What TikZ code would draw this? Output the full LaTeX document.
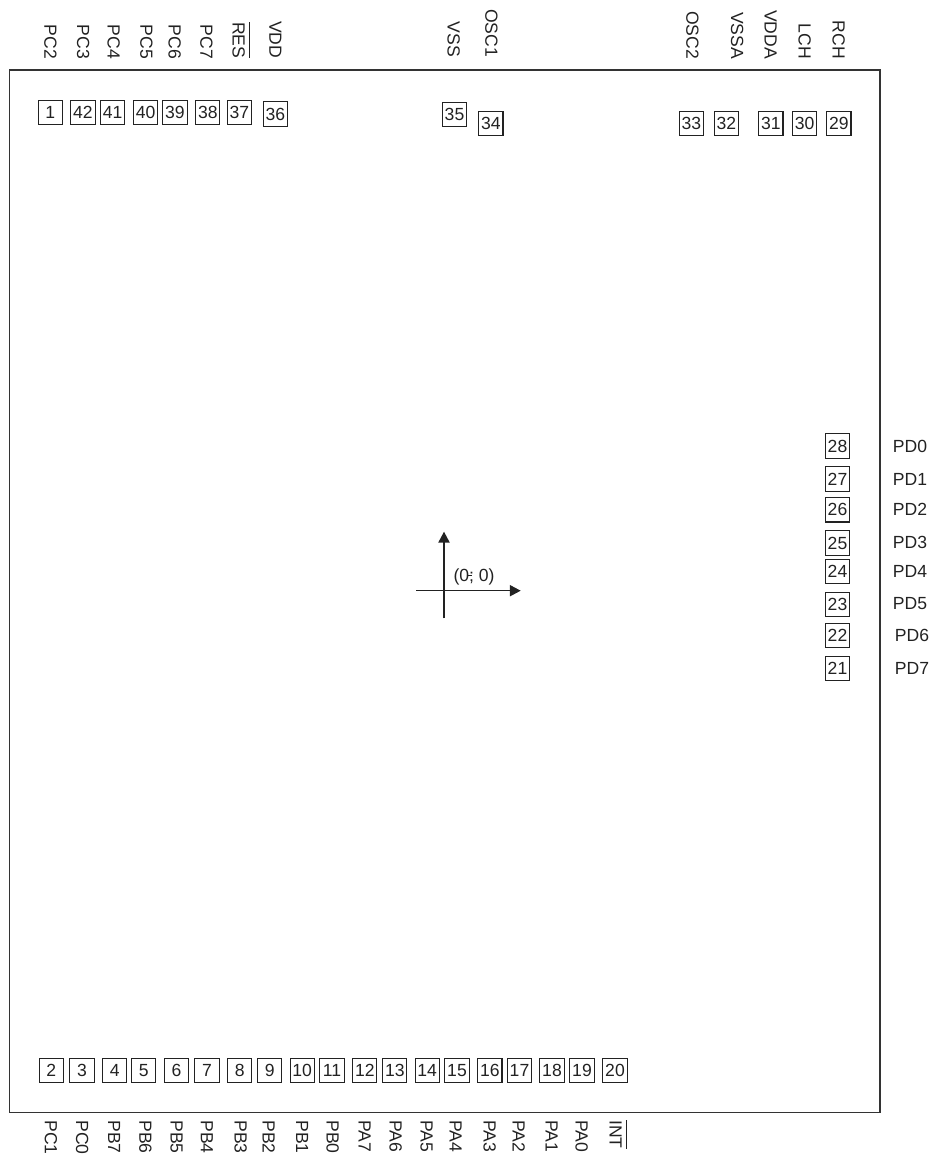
\documentclass[tikz,border=0pt]{standalone}
\usepackage{fontspec}
\setmainfont{Liberation Sans}
\usepackage{calc}
\usepackage{xcolor}
\definecolor{rimgray}{HTML}{333333}
\definecolor{inkgray}{HTML}{222222}
\usepackage{tikz}
\usetikzlibrary{arrows.meta, positioning}

\newcommand{\barred}[1]{\smash{\rlap{\rule[9.5pt]{\widthof{#1}}{0.5pt}}#1}}

\tikzset{
  chipfont/.style={font=\fontsize{10}{12}\selectfont, text=inkgray},
  padbox/.style={chipfont, draw=inkgray, line width=0.65pt, minimum size=0.485cm, inner sep=0pt},
  pinname/.style={chipfont, inner sep=0pt, text height=7.2pt, text depth=0pt},
  pintop/.style={pinname, rotate=-90, anchor=east},
  pinbottom/.style={pinname, rotate=-90, anchor=west},
  axisline/.style={draw=inkgray, line width=0.7pt, -{Triangle[length=6.2pt, width=6.4pt]}},
}

\begin{document}
\begin{tikzpicture}[x=0.02cm, y=-0.02cm]
  \useasboundingbox (0, 0) rectangle (932, 1156);

  % Die outline
  \draw[rimgray, line width=0.8pt] (9.5, 70) rectangle (880, 1112.7);

  % Pads along the top edge
  \foreach \num/\px/\py in {1/50.2/112.6, 42/83/112.6, 41/112.7/112.6, 40/145.7/112.6,
      39/175/112.6, 38/207.8/112.6, 37/239.3/112.6, 36/275.3/114, 35/454.5/114.8,
      34/490.8/123.8, 33/691.3/123.8, 32/726.3/123.8, 31/770.8/123.8, 30/804.7/123.8,
      29/838.8/123.8}
    \node[padbox] (pad\num) at (\px, \py) {\num};

  % Pads along the bottom edge
  \foreach \num/\px in {2/51.3, 3/82, 4/114.7, 5/143.8, 6/176.5, 7/207, 8/239.7, 9/269.8,
      10/302.2, 11/332, 12/364.8, 13/394.8, 14/427.2, 15/457, 16/489.8, 17/519.5,
      18/552, 19/582, 20/615}
    \node[padbox] (pad\num) at (\px, 1070.3) {\num};

  % Pads and names on the right side
  \foreach \num/\py in {28/446, 27/479, 26/509.8, 25/543, 24/571.3, 23/604.5, 22/635.3, 21/668.2}
    \node[padbox] (pad\num) at (837.5, \py) {\num};
  \foreach \name/\px/\py in {PD0/910/446, PD1/910/479, PD2/910/509.3, PD3/910/542.3,
      PD4/910/571.7, PD5/910/604, PD6/912/635.7, PD7/912/668.3}
    \node[chipfont] (\name) at (\px, \py) {\name};

  % Names above the top edge
  \foreach \name/\px/\py in {PC2/50.8/59.3, PC3/83.5/59.3, PC4/114/59.3, PC5/146.7/59.3,
      PC6/175/59.3, PC7/206.7/59.3, VDD/275.8/58.5, VSS/454/57.5, OSC1/491.7/57.5,
      OSC2/692.8/59.3, VSSA/737.5/59.3, VDDA/771/59.3, LCH/805/59.3, RCH/839/59.3}
    \node[pintop] (\name) at (\px, \py) {\name};
  \node[pintop] (RES) at (239, 58.5) {\barred{RES}};

  % Names below the bottom edge
  \foreach \name/\px in {PC1/51.3, PC0/82.5, PB7/114.5, PB6/145.8, PB5/177, PB4/207.3,
      PB3/241, PB2/269, PB1/302.5, PB0/333, PA7/365, PA6/396, PA5/427, PA4/456,
      PA3/490, PA2/519, PA1/552, PA0/582}
    \node[pinbottom] (\name) at (\px, 1120) {\name};
  \node[pinbottom] (INT) at (616, 1120) {\barred{INT}};

  % Origin axes
  \coordinate (xfrom) at (416, 590.7);
  \coordinate (xto) at (520.7, 590.7);
  \coordinate (yfrom) at (444, 618.3);
  \coordinate (yto) at (444, 531.7);
  \draw[axisline] (xfrom) -- (xto);
  \draw[axisline] (yfrom) -- (yto);
  \node[chipfont] (origin) at (474, 576.7) {(0; 0)};
  \draw[inkgray, line width=0.4pt] (466.7, 575) -- (472.3, 575);
\end{tikzpicture}
\end{document}
